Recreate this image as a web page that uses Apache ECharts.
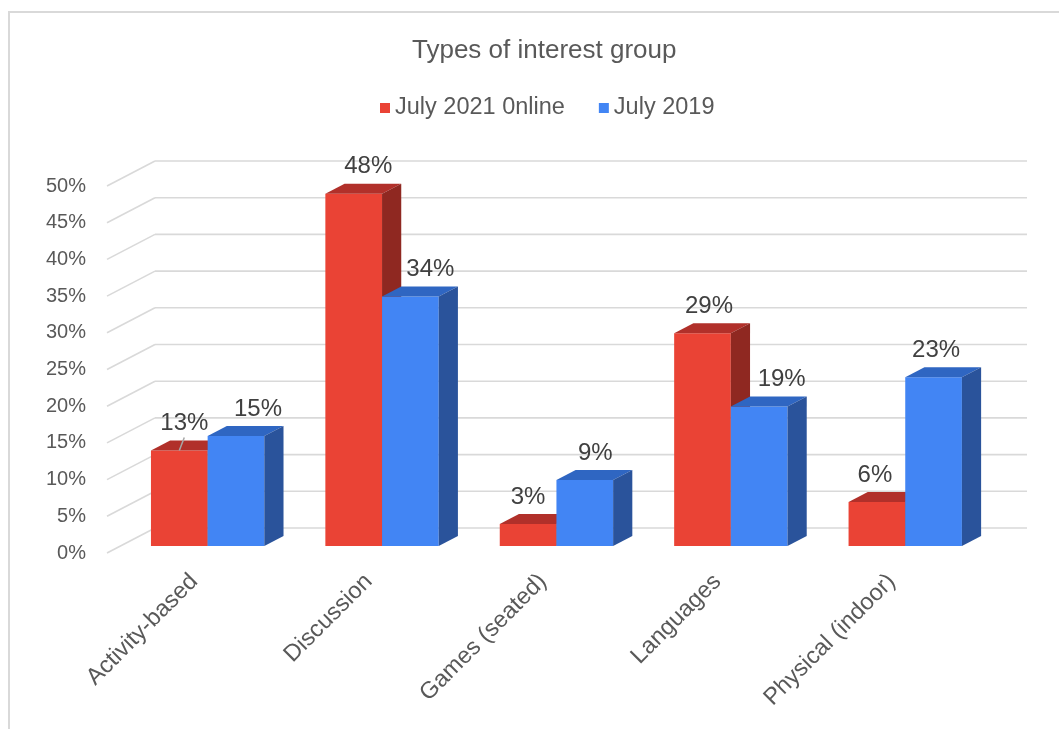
<!DOCTYPE html>
<html>
<head>
<meta charset="utf-8">
<title>Types of interest group</title>
<script src="https://cdn.jsdelivr.net/npm/echarts@6/dist/echarts.min.js"></script>
<style>
  html, body { margin: 0; padding: 0; background: #ffffff; }
  #chart { width: 1059px; height: 729px; }
</style>
</head>
<body>
<div id="chart"></div>
<script>
// ---- data ----
const categories = ['Activity-based', 'Discussion', 'Games (seated)', 'Languages', 'Physical (indoor)'];
const seriesNames = ['July 2021 0nline', 'July 2019'];
const online2021 = [13, 48, 3, 29, 6];
const july2019 = [15, 34, 9, 19, 23];
const yTicks = [0, 5, 10, 15, 20, 25, 30, 35, 40, 45, 50];

// ---- look ----
const FONT = '"Liberation Sans", Arial, sans-serif';
const DEPTH = { x: 48, y: -25 };     // full depth of the floor, in pixels
const FRONT = 0.28, BACK = 0.68;     // where the bars sit inside that depth
const BAR_FRAC = 0.325;              // width of one bar as a share of a category band
const faces = [
  { front: '#EA4335', top: '#B1302A', side: '#8F2821' },
  { front: '#4285F4', top: '#2F66C2', side: '#2A539B' }
];
// horizontal nudge of each value label; the one with a leader line sits away from its bar
const labelShift = [[5, 14.5, 0, 6.5, -2], [22, 20, 10.5, 22.5, 2.5]];
const labelLeader = [[true, false, false, false, false], [false, false, false, false, false]];
const GRID_COLOR = '#d9d9d9';

function wallRenderer(params, api) {
  const cs = params.coordSys;
  const y = api.coord([0, api.value(1)])[1];
  const bx = cs.x + DEPTH.x, by = y + DEPTH.y;
  return {
    type: 'group',
    silent: true,
    children: [
      { type: 'line', shape: { x1: cs.x, y1: y, x2: bx, y2: by },
        style: { stroke: GRID_COLOR, lineWidth: 1.6 } },
      { type: 'line', shape: { x1: bx, y1: by, x2: cs.x + cs.width + DEPTH.x, y2: by },
        style: { stroke: GRID_COLOR, lineWidth: 1.6 } }
    ]
  };
}

function barRenderer(s) {
  return function (params, api) {
    const i = api.value(0), v = api.value(1);
    const base = api.coord([i, 0]);
    const top = api.coord([i, v]);
    const band = api.size([1, 0])[0];
    const w = band * BAR_FRAC;
    const fx = base[0] + (s === 0 ? -w : 0) + DEPTH.x * FRONT;
    const yb = base[1] + DEPTH.y * FRONT;
    const yt = top[1] + DEPTH.y * FRONT;
    const dx = DEPTH.x * (BACK - FRONT), dy = DEPTH.y * (BACK - FRONT);
    const c = faces[s];
    const cx = fx + w / 2;
    const lx = cx + labelShift[s][i], ly = yt - 27;
    const children = [
      { type: 'rect', shape: { x: fx, y: yt, width: w, height: yb - yt },
        style: { fill: c.front } },
      { type: 'polygon', shape: { points: [[fx, yt], [fx + w, yt], [fx + w + dx, yt + dy], [fx + dx, yt + dy]] },
        style: { fill: c.top } },
      { type: 'polygon', shape: { points: [[fx + w, yt], [fx + w + dx, yt + dy], [fx + w + dx, yb + dy], [fx + w, yb]] },
        style: { fill: c.side } },
      { type: 'text', x: lx, y: ly,
        style: { text: v + '%', fill: '#404040', font: '24px ' + FONT, align: 'center', verticalAlign: 'middle' } }
    ];
    if (labelLeader[s][i]) {
      children.push({ type: 'line', shape: { x1: lx, y1: ly + 14, x2: cx, y2: yt },
        style: { stroke: '#a6a6a6', lineWidth: 1.5 } });
    }
    return { type: 'group', children: children };
  };
}

const chart = echarts.init(document.getElementById('chart'), null, { renderer: 'canvas' });
chart.setOption({
  animation: false,
  backgroundColor: '#ffffff',
  textStyle: { fontFamily: FONT },
  title: {
    text: 'Types of interest group',
    left: 407, top: 33,
    textStyle: { fontSize: 26, fontWeight: 'normal', color: '#595959', fontFamily: FONT }
  },
  legend: {
    data: seriesNames,
    left: 375, top: 91,
    icon: 'rect', itemWidth: 10, itemHeight: 10, itemGap: 34,
    textStyle: { fontSize: 23.5, color: '#595959', fontFamily: FONT }
  },
  graphic: [{
    type: 'rect', silent: true, z: -10,
    shape: { x: 9, y: 12, width: 1060, height: 730 },
    style: { fill: 'none', stroke: '#d9d9d9', lineWidth: 2 }
  }],
  grid: { left: 107, right: 80, top: 186, bottom: 176, containLabel: false },
  xAxis: {
    type: 'category',
    data: categories,
    boundaryGap: true,
    axisLine: { show: false },
    axisTick: { show: false },
    axisLabel: { rotate: 45, margin: 25, fontSize: 23.5, color: '#595959', fontFamily: FONT, interval: 0 }
  },
  yAxis: {
    type: 'value',
    min: 0, max: 50, interval: 5,
    axisLine: { show: false },
    axisTick: { show: false },
    splitLine: { show: false },
    axisLabel: { margin: 21, fontSize: 20, color: '#595959', fontFamily: FONT, formatter: '{value}%' }
  },
  series: [
    {
      type: 'custom', name: 'walls', silent: true, z: 1,
      renderItem: wallRenderer,
      data: yTicks.map(function (t) { return [0, t]; })
    },
    {
      type: 'custom', name: seriesNames[0], z: 2,
      itemStyle: { color: faces[0].front },
      renderItem: barRenderer(0),
      data: online2021.map(function (v, i) { return [i, v]; })
    },
    {
      type: 'custom', name: seriesNames[1], z: 2,
      itemStyle: { color: faces[1].front },
      renderItem: barRenderer(1),
      data: july2019.map(function (v, i) { return [i, v]; })
    }
  ]
});
</script>
</body>
</html>
